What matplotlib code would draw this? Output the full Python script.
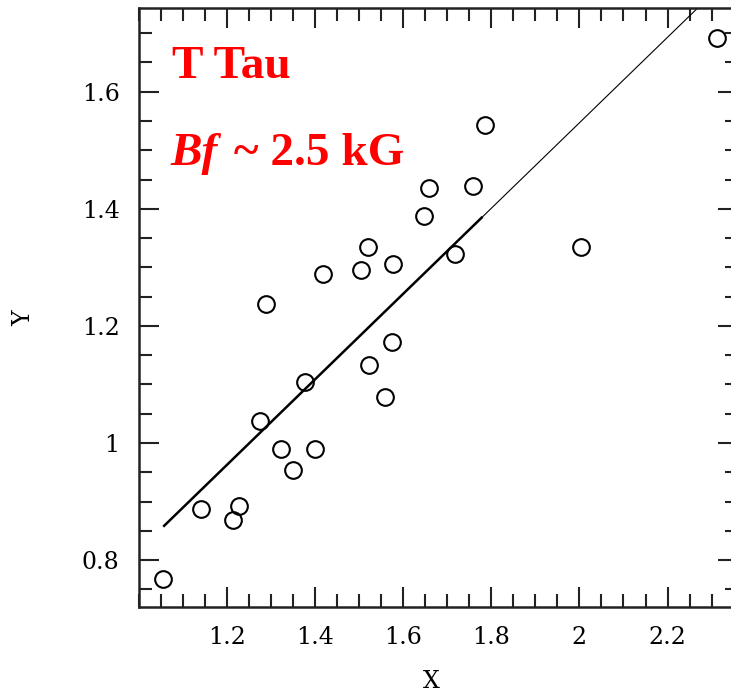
import matplotlib
matplotlib.use("Agg")
import matplotlib.pyplot as plt
from matplotlib.ticker import MultipleLocator, FormatStrFormatter
import numpy as np

# measured points (X, Y)
x_obs = [1.054, 1.141, 1.214, 1.228, 1.275, 1.288, 1.322, 1.350, 1.378, 1.400,
         1.417, 1.503, 1.521, 1.523, 1.559, 1.574, 1.576, 1.647, 1.659, 1.718,
         1.758, 1.786, 2.003, 2.312]
y_obs = [0.768, 0.887, 0.869, 0.892, 1.038, 1.237, 0.989, 0.954, 1.104, 0.990,
         1.289, 1.296, 1.334, 1.133, 1.078, 1.172, 1.306, 1.387, 1.436, 1.323,
         1.439, 1.543, 1.334, 1.692]

# linear fit y = a*x + b, thick over the data range, thin beyond
fit_a = 0.73
fit_b = 0.087
fit_x_thick = [1.055, 1.78]
fit_x_thin = [1.78, 2.36]

x_ticks = [1.2, 1.4, 1.6, 1.8, 2.0, 2.2]
y_ticks = [0.8, 1.0, 1.2, 1.4, 1.6]

W, H = 731, 694
fig = plt.figure(figsize=(W / 100, H / 100), dpi=100)
ax = fig.add_axes([139 / W, 87 / H, 599 / W, 599 / H])

ax.plot(x_obs, y_obs, 'o', mfc='none', mec='black', ms=12, mew=1.5)

xt = np.array(fit_x_thick)
ax.plot(xt, fit_a * xt + fit_b, color='black', lw=1.8, solid_capstyle='butt')
xn = np.array(fit_x_thin)
ax.plot(xn, fit_a * xn + fit_b, color='black', lw=0.8)

ax.set_xlim(1.0, 2.36)
ax.set_ylim(0.72, 1.743)

ax.set_xticks(x_ticks)
ax.set_yticks(y_ticks)
ax.xaxis.set_minor_locator(MultipleLocator(0.05))
ax.yaxis.set_minor_locator(MultipleLocator(0.05))
ax.xaxis.set_major_formatter(FormatStrFormatter('%g'))
ax.yaxis.set_major_formatter(FormatStrFormatter('%g'))

ax.tick_params(which='both', direction='in', top=True, right=True, width=1.5,
               colors='#222222')
ax.tick_params(which='major', length=14.5, labelsize=17, pad=14)
ax.tick_params(which='minor', length=9.5)
for lab in ax.get_xticklabels() + ax.get_yticklabels():
    lab.set_family('DejaVu Serif')
    lab.set_color('black')
for s in ax.spines.values():
    s.set_linewidth(1.8)
    s.set_color('#222222')

ax.set_xlabel('X', fontsize=17, family='DejaVu Serif')
ax.set_ylabel('Y', fontsize=17, family='DejaVu Serif')
ax.xaxis.set_label_coords((431 - 139) / 599, (607 - 670) / 599)
ax.yaxis.set_label_coords((35 - 139) / 599, (607 - 318) / 599)

ax.text(0.055, 0.883, 'T Tau', transform=ax.transAxes, color='red',
        fontsize=34, fontweight='bold', family='Liberation Serif', va='baseline')
t1 = ax.text(0.052, 0.738, 'Bf', transform=ax.transAxes, color='red',
             fontsize=34, fontweight='bold', fontstyle='italic',
             family='Liberation Serif', va='baseline')
ax.annotate(' ~ 2.5 kG', xy=(1, 0), xycoords=t1, xytext=(3, 0),
            textcoords='offset points', va='bottom', color='red',
            fontsize=34, fontweight='bold', family='Liberation Serif')

fig.savefig('out.png', dpi=100)
